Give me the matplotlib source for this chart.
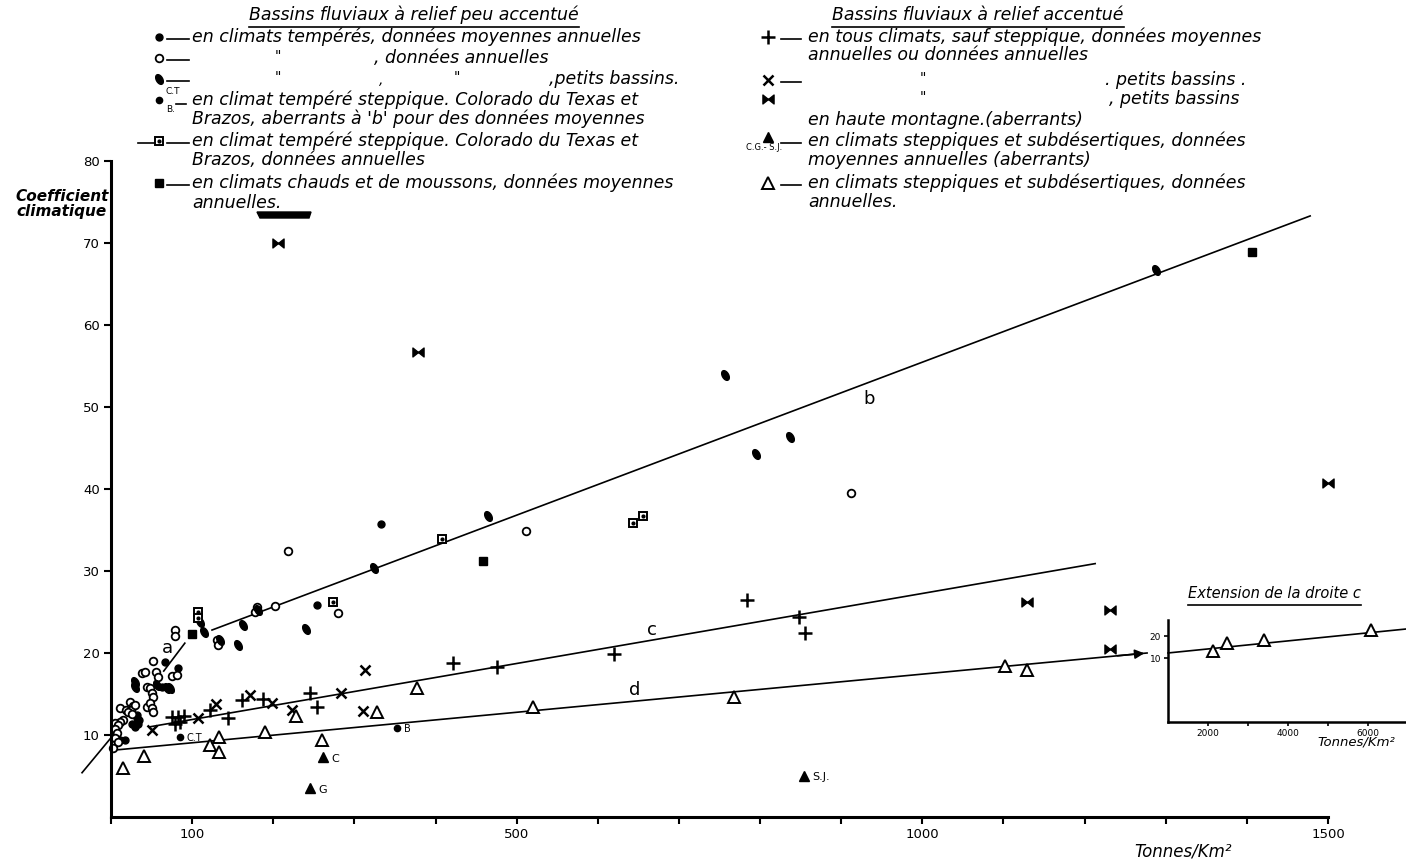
"""
Coefficient climatique en fonction de la dégradation spécifique (Tonnes/Km²).
Reprise d'un graphique scanné, valeurs relevées à l'oeil.
"""

import numpy as np
import matplotlib
matplotlib.use("Agg")
import matplotlib.pyplot as plt
from matplotlib.path import Path
from matplotlib.patches import Polygon

W, H = 1406, 868

# ── Données ──────────────────────────────────────────────────────────────────
# relief peu accentué, climats tempérés, données moyennes annuelles (•)
temp_moy_x = [66.5, 82.6, 62.9, 32, 32, 25.9, 29, 33.5, 35, 11, 17, 254, 333]
temp_moy_y = [18.9, 18.2, 15.9, 12.4, 12.1, 11.3, 11.0, 11.4, 11.8, 9.4, 9.4, 25.9, 35.7]

# idem, données annuelles (o)
temp_ann_x = [79, 79, 130.6, 132, 177.5, 180, 202, 280, 51.8, 38, 42, 55.5, 58, 75, 81,
              44, 48, 50.5, 52, 23.4, 27, 11, 18.5, 24.6, 29.6, 44.4, 48, 50.5, 51.8,
              21, 26, 14.8, 11, 5, 8.6, 5, 7.4, 5, 8.6, 2.5, 511, 218, 912]
temp_ann_y = [22.8, 22.1, 21.6, 21.0, 25.0, 25.6, 25.7, 24.9, 19.0, 17.6, 17.7, 17.7, 17.1,
              17.2, 17.3, 15.9, 15.7, 15.1, 14.6, 14.0, 13.5, 13.3, 13.0, 13.0, 13.6, 13.4,
              13.9, 13.3, 12.8, 12.8, 12.6, 11.8, 11.6, 11.5, 11.2, 10.7, 10.2, 9.6, 9.1,
              8.4, 34.9, 32.4, 39.5]

# idem, petits bassins
petits_x = [110, 114.6, 134, 156.5, 162.7, 181, 240, 324, 464.6, 757, 837, 795, 1288,
            29.6, 29.6, 56.7, 69, 72.7]
petits_y = [23.8, 22.6, 21.6, 21.0, 23.4, 25.2, 22.9, 30.4, 36.7, 53.9, 46.3, 44.3, 66.7,
            16.5, 15.9, 16.1, 15.7, 15.7]

# climat tempéré steppique, moyennes aberrantes (Colorado du Texas, Brazos)
aberr_x = [85, 352.5]
aberr_y = [9.8, 10.9]
aberr_lab = ["C.T", "B"]

# climat tempéré steppique, données annuelles
stepp_x = [107, 107, 273.6, 408, 643, 656]
stepp_y = [25.0, 24.3, 26.2, 33.9, 35.9, 36.7]

# climats chauds et de moussons
chauds_x = [100, 458.5, 1406]
chauds_y = [22.3, 31.2, 68.9]

# relief accentué, tous climats sauf steppique (+)
plus_x = [75, 82.6, 90, 79, 85, 122, 144, 161.5, 187, 245, 254, 421.5, 475.7, 620, 784,
          848, 855]
plus_y = [12.2, 12.2, 12.3, 11.3, 11.6, 13.0, 12.1, 14.3, 14.4, 15.1, 13.4, 18.8, 18.3,
          19.9, 26.5, 24.4, 22.4]

# idem, petits bassins (x)
croix_x = [50.5, 107, 129, 171, 198, 223, 283.5, 313, 310.6]
croix_y = [10.6, 12.1, 13.8, 14.9, 13.9, 13.0, 15.1, 17.9, 12.9]

# petits bassins en haute montagne (aberrants)
noeud_x = [206, 378, 1129, 1231, 1231, 1500]
noeud_y = [70.0, 56.7, 26.2, 25.2, 20.5, 40.7]

# steppiques et subdésertiques, moyennes aberrantes
tri_ab_x = [261, 245, 854]
tri_ab_y = [7.3, 3.5, 5.0]
tri_ab_lab = ["C", "G", "S.J."]

# steppiques et subdésertiques, données annuelles
tri_x = [15, 40.7, 122, 133, 133, 190, 228, 260, 328, 377, 520, 768, 1102, 1129]
tri_y = [6.0, 7.4, 8.8, 9.8, 7.9, 10.4, 12.3, 9.4, 12.8, 15.7, 13.4, 14.6, 18.4, 17.9]

# droites a, b, c, d (extrémités)
droite_a = ([-35.7, 91], [5.4, 21.2])
droite_b = ([124.5, 1478], [22.8, 73.3])
droite_c = ([48, 1213], [11.0, 30.9])
droite_d = ([8.6, 1277], [8.2, 20.0])

# extension de la droite (encart)
ext_x = [2125, 2475, 3400, 6075]
ext_y = [13.2, 16.8, 18.2, 22.7]
ext_droite = ([1000, 6950], [12.3, 23.2])

x_labels = [100, 500, 1000, 1500]
y_ticks = [10, 20, 30, 40, 50, 60, 70, 80]

# ── Marqueurs ────────────────────────────────────────────────────────────────
t = np.linspace(0, 2 * np.pi, 40)
ang = np.deg2rad(-60)
ex, ey = np.cos(t), 0.6 * np.sin(t)
LEAF = Path(np.column_stack([ex * np.cos(ang) - ey * np.sin(ang),
                             ex * np.sin(ang) + ey * np.cos(ang)]))
BOWTIE = Path([(-1, -0.8), (-1, 0.8), (1, -0.8), (1, 0.8), (-1, -0.8)],
              [Path.MOVETO, Path.LINETO, Path.LINETO, Path.LINETO, Path.CLOSEPOLY])

STY = {
    "temp_moy": dict(marker="o", ms=5, mfc="k", mec="k"),
    "temp_ann": dict(marker="o", ms=5.5, mfc="white", mec="k", mew=1.3),
    "petits": dict(marker=LEAF, ms=7, mfc="k", mec="k"),
    "aberr": dict(marker="o", ms=4.5, mfc="k", mec="k"),
    "stepp": dict(marker="s", ms=6, mfc="white", mec="k", mew=1.4),
    "chauds": dict(marker="s", ms=6, mfc="k", mec="k"),
    "plus": dict(marker="+", ms=10, mew=1.8, mec="k"),
    "croix": dict(marker="x", ms=7, mew=1.8, mec="k"),
    "noeud": dict(marker=BOWTIE, ms=8, mfc="k", mec="k"),
    "tri_ab": dict(marker="^", ms=7, mfc="k", mec="k"),
    "tri": dict(marker="^", ms=8, mfc="white", mec="k", mew=1.4),
}


def pts(ax, xs, ys, key, **kw):
    ax.plot(xs, ys, ls="none", clip_on=False, **STY[key], **kw)
    if key == "stepp":
        ax.plot(xs, ys, ls="none", marker="o", ms=2, mfc="k", mec="k", clip_on=False, **kw)


HAND = dict(family="DejaVu Sans", style="italic", color="k")

fig = plt.figure(figsize=(W / 100, H / 100), dpi=100)

# ── Graphique principal ──────────────────────────────────────────────────────
ax = fig.add_axes([111 / W, (H - 817) / H, (1328 - 111) / W, (817 - 161) / H])
ax.patch.set_alpha(0)
ax.set_xlim(0, 1500)
ax.set_ylim(0, 80)
for s in ("top", "right"):
    ax.spines[s].set_visible(False)
for s in ("left", "bottom"):
    ax.spines[s].set_linewidth(2.2)

ax.set_xticks(x_labels)
ax.set_xticklabels([str(v) for v in x_labels])
ax.set_xticks([v for v in range(0, 1501, 100) if v not in x_labels], minor=True)
ax.set_yticks(y_ticks)
ax.tick_params(which="both", direction="out", length=5, width=1.5, labelsize=9.5, pad=3)

# droite a : visible seulement hors du nuage de points
ax.plot([droite_a[0][0], 0], [droite_a[1][0], 9.66], color="k", lw=1.2, clip_on=False)
ax.plot([65, droite_a[0][1]], [17.8, droite_a[1][1]], color="k", lw=1.2)
ax.plot(*droite_b, color="k", lw=1.2)
ax.plot(*droite_c, color="k", lw=1.2)
ax.plot(*droite_d, color="k", lw=1.2)
ax.annotate("", xy=(droite_d[0][1], droite_d[1][1]),
            xytext=(droite_d[0][1] - 40, droite_d[1][1] - 0.37),
            arrowprops=dict(arrowstyle="-|>", color="k", lw=1.2, mutation_scale=14),
            annotation_clip=False)

pts(ax, temp_moy_x, temp_moy_y, "temp_moy")
pts(ax, temp_ann_x, temp_ann_y, "temp_ann")
pts(ax, petits_x, petits_y, "petits")
pts(ax, aberr_x, aberr_y, "aberr")
pts(ax, stepp_x, stepp_y, "stepp")
pts(ax, chauds_x, chauds_y, "chauds")
pts(ax, plus_x, plus_y, "plus")
pts(ax, croix_x, croix_y, "croix")
pts(ax, noeud_x, noeud_y, "noeud")
pts(ax, tri_ab_x, tri_ab_y, "tri_ab")
pts(ax, tri_x, tri_y, "tri")

for x, y, lab in zip(aberr_x, aberr_y, aberr_lab):
    ax.annotate(lab, (x, y), xytext=(5, -1), textcoords="offset points",
                fontsize=7, va="center", family="DejaVu Sans")
for x, y, lab in zip(tri_ab_x, tri_ab_y, tri_ab_lab):
    ax.annotate(lab, (x, y), xytext=(6, -1), textcoords="offset points",
                fontsize=8, va="center", family="DejaVu Sans")

for lab, x, y in (("a", 70, 20.6), ("b", 934, 51.0), ("c", 667, 22.8), ("d", 646, 15.5)):
    ax.text(x, y, lab, fontsize=13, ha="center", va="center", family="DejaVu Sans")

# ── Encart : extension de la droite ──────────────────────────────────────────
ins = fig.add_axes([1168 / W, (H - 722) / H, (1406 - 1168) / W, (722 - 620) / H])
ins.patch.set_alpha(0)
ins.set_xlim(1000, 6950)
ins.set_ylim(-19.1, 27.3)
for s in ("top", "right"):
    ins.spines[s].set_visible(False)
for s in ("left", "bottom"):
    ins.spines[s].set_linewidth(1.8)
ins.set_xticks([2000, 4000, 6000])
ins.set_xticks([3000, 5000], minor=True)
ins.set_yticks([10, 20])
ins.set_yticklabels(["10", "20"])
ins.tick_params(which="both", direction="out", length=3, width=1.2, labelsize=6.5, pad=2)
ins.plot(*ext_droite, color="k", lw=1.2, clip_on=False)
ins.plot(ext_x, ext_y, ls="none", clip_on=False, **STY["tri"])

# ── Textes et légende (coordonnées pixel) ────────────────────────────────────
ov = fig.add_axes([0, 0, 1, 1])
ov.set_xlim(0, W)
ov.set_ylim(H, 0)
ov.axis("off")
ov.patch.set_alpha(0)

renderer = fig.canvas.get_renderer()


def underlined(x, y, s, gap=3, **kw):
    txt = ov.text(x, y, s, **kw)
    bb = txt.get_window_extent(renderer)
    inv = ov.transData.inverted()
    (x0, y0), (x1, _) = inv.transform([(bb.x0, bb.y0), (bb.x1, bb.y0)])
    ov.plot([x0, x1], [y0 + gap, y0 + gap], color="k", lw=1.2)


FS = 12.5
underlined(414, 15, "Bassins fluviaux à relief peu accentué", ha="center", va="center",
           fontsize=FS, **HAND)
underlined(978, 15, "Bassins fluviaux à relief accentué", ha="center", va="center",
           fontsize=FS, **HAND)

left = [
    (37, "temp_moy", "en climats tempérés, données moyennes annuelles", 192),
    (58, "temp_ann", ", données annuelles", 374),
    (79, "petits", ",petits bassins.", 549),
    (100, "aberr", "en climat tempéré steppique. Colorado du Texas et", 192),
    (119, None, "Brazos, aberrants à 'b' pour des données moyennes", 192),
    (141, "stepp", "en climat tempéré steppique. Colorado du Texas et", 192),
    (160, None, "Brazos, données annuelles", 192),
    (183, "chauds", "en climats chauds et de moussons, données moyennes", 192),
    (203, None, "annuelles.", 192),
]
for y, key, s, x in left:
    if key:
        pts(ov, [159], [y], key)
        if key == "aberr":
            ov.plot([176, 186], [y + 4, y + 4], color="k", lw=1.2)
        else:
            ov.plot([167, 189], [y + 2, y + 2], color="k", lw=1.2)
    ov.text(x, y, s, ha="left", va="center", fontsize=FS, **HAND)
ov.plot([138, 154], [143, 143], color="k", lw=1.2)
ov.text(165, 92, "C.T", fontsize=6.5, va="center", family="DejaVu Sans")
ov.text(166, 110, "B.", fontsize=6.5, va="center", family="DejaVu Sans")
for x, y, s in ((278, 56, '"'), (278, 77, '"'), (381, 80, ","), (457, 77, '"')):
    ov.text(x, y, s, ha="center", va="center", fontsize=10, **HAND)

right = [
    (37, "plus", "en tous climats, sauf steppique, données moyennes", 808),
    (55, None, "annuelles ou données annuelles", 808),
    (80, "croix", ". petits bassins .", 1105),
    (99, "noeud", ", petits bassins", 1109),
    (120, None, "en haute montagne.(aberrants)", 808),
    (141, "tri_ab", "en climats steppiques et subdésertiques, données", 808),
    (160, None, "moyennes annuelles (aberrants)", 808),
    (183, "tri", "en climats steppiques et subdésertiques, données", 808),
    (202, None, "annuelles.", 808),
]
for y, key, s, x in right:
    if key:
        pts(ov, [768], [y - (4 if key == "tri_ab" else 0)], key)
        if key != "noeud":
            ov.plot([781, 801], [y + 2, y + 2], color="k", lw=1.2)
    ov.text(x, y, s, ha="left", va="center", fontsize=FS, **HAND)
ov.text(764, 148, "C.G.- S.J.", fontsize=6, ha="center", va="center", family="DejaVu Sans")
for x, y, s in ((923, 78, '"'), (923, 97, '"')):
    ov.text(x, y, s, ha="center", va="center", fontsize=10, **HAND)

# tampon noir sous la légende
ov.add_patch(Polygon([(257, 212), (311, 212), (309, 218), (260, 218)], closed=True,
                     color="k"))

ov.text(62, 204, "Coefficient\nclimatique", ha="center", va="center", fontsize=11,
        fontweight="bold", linespacing=1.05, **HAND)
ov.text(1183, 852, "Tonnes/Km²", ha="center", va="center", fontsize=12, **HAND)

underlined(1188, 594, "Extension de la droite c", ha="left", va="center",
           fontsize=10.5, **HAND)
ov.text(1356, 742, "Tonnes/Km²", ha="center", va="center", fontsize=9.5, **HAND)

fig.savefig("out.png", dpi=100)
